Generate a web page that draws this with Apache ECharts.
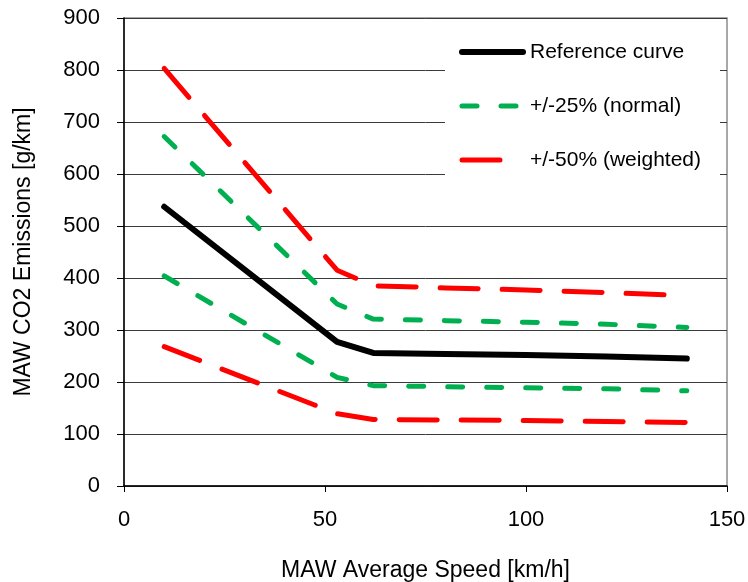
<!DOCTYPE html>
<html>
<head>
<meta charset="utf-8">
<script src="https://cdn.jsdelivr.net/npm/echarts@6/dist/echarts.min.js"></script>
<style>
  html, body { margin: 0; padding: 0; background: #fff; }
  #main { width: 748px; height: 582px; }
</style>
</head>
<body>
<div id="main"></div>
<script>
// speed [km/h] -> CO2 [g/km]
var speeds = [10, 53, 62, 80, 100, 120, 140];
var refCurve = [537, 277, 256, 254, 252, 249, 245];
var normalUpper = [672, 350, 321, 318, 315, 311, 305];
var normalLower = [404, 209, 193, 191, 189, 187, 183];
var weightedUpper = [803, 415, 385, 381, 377, 372, 366];
var weightedLower = [268, 139, 128, 127, 126, 124, 122];
var xTicks = [0, 50, 100, 150];
var yTicks = [0, 100, 200, 300, 400, 500, 600, 700, 800, 900];

var FONT = 'Liberation Sans';
var RED_DASH = [38, 24];
var GREEN_DASH = [15, 24];

function pairs(ys) {
    var out = [];
    for (var i = 0; i < speeds.length; i++) {
        out.push([speeds[i], ys[i]]);
    }
    return out;
}

function lineSeries(name, ys, color, width, dash) {
    return {
        name: name,
        type: 'line',
        data: pairs(ys),
        symbol: 'none',
        lineStyle: {
            color: color,
            width: width,
            type: dash || 'solid',
            cap: 'round',
            join: 'round'
        },
        itemStyle: { color: color },
        animation: false
    };
}

// legend entries: line only, no marker
function legendItem(name, color, width, dash) {
    return {
        name: name,
        itemStyle: { opacity: 0 },
        lineStyle: { color: color, width: width, type: dash || 'solid', cap: 'round' }
    };
}

var chart = echarts.init(document.getElementById('main'));

var option = {
    backgroundColor: '#fff',
    textStyle: { fontFamily: FONT },
    grid: {
        left: 124, right: 21, top: 18, bottom: 96,
        outerBoundsMode: 'none',
        containLabel: false,
        show: true, borderColor: '#8c8c8c', borderWidth: 1.5,
        backgroundColor: 'transparent'
    },
    legend: {
        orient: 'vertical',
        left: 445, top: 25,
        padding: [15, 19, 20, 14],
        backgroundColor: '#fff',
        itemWidth: 61, itemHeight: 6, itemGap: 30,
        textStyle: { fontFamily: FONT, fontSize: 21, color: '#000', lineHeight: 24, padding: [0, 0, 0, 2] },
        data: [
            legendItem('Reference curve', '#000000', 6),
            legendItem('+/-25% (normal)', '#00b050', 5, GREEN_DASH),
            legendItem('+/-50% (weighted)', '#ff0000', 5, RED_DASH)
        ]
    },
    xAxis: {
        type: 'value',
        min: xTicks[0], max: xTicks[xTicks.length - 1], interval: 50,
        name: 'MAW Average Speed [km/h]',
        nameLocation: 'middle', nameGap: 73,
        nameTextStyle: { fontFamily: FONT, fontSize: 23, color: '#000' },
        axisLine: { show: true, lineStyle: { color: '#000', width: 1.5 } },
        axisTick: { show: true, length: 6, lineStyle: { color: '#000' } },
        axisLabel: { fontFamily: FONT, fontSize: 22, color: '#000', margin: 23 },
        splitLine: { show: false }
    },
    yAxis: {
        type: 'value',
        min: yTicks[0], max: yTicks[yTicks.length - 1], interval: 100,
        name: 'MAW CO2 Emissions [g/km]',
        nameLocation: 'middle', nameGap: 89,
        nameTextStyle: { fontFamily: FONT, fontSize: 23, color: '#000' },
        axisLine: { show: true, lineStyle: { color: '#000', width: 1.5 } },
        axisTick: { show: true, length: 7, lineStyle: { color: '#000' } },
        axisLabel: { fontFamily: FONT, fontSize: 22, color: '#000', margin: 24 },
        splitLine: { show: true, lineStyle: { color: '#3a3a3a', width: 1 } }
    },
    series: [
        lineSeries('+/-50% (weighted)', weightedUpper, '#ff0000', 5, RED_DASH),
        lineSeries('+/-50% (weighted)', weightedLower, '#ff0000', 5, RED_DASH),
        lineSeries('+/-25% (normal)', normalUpper, '#00b050', 5, GREEN_DASH),
        lineSeries('+/-25% (normal)', normalLower, '#00b050', 5, GREEN_DASH),
        lineSeries('Reference curve', refCurve, '#000000', 6)
    ]
};

chart.setOption(option);
</script>
</body>
</html>
